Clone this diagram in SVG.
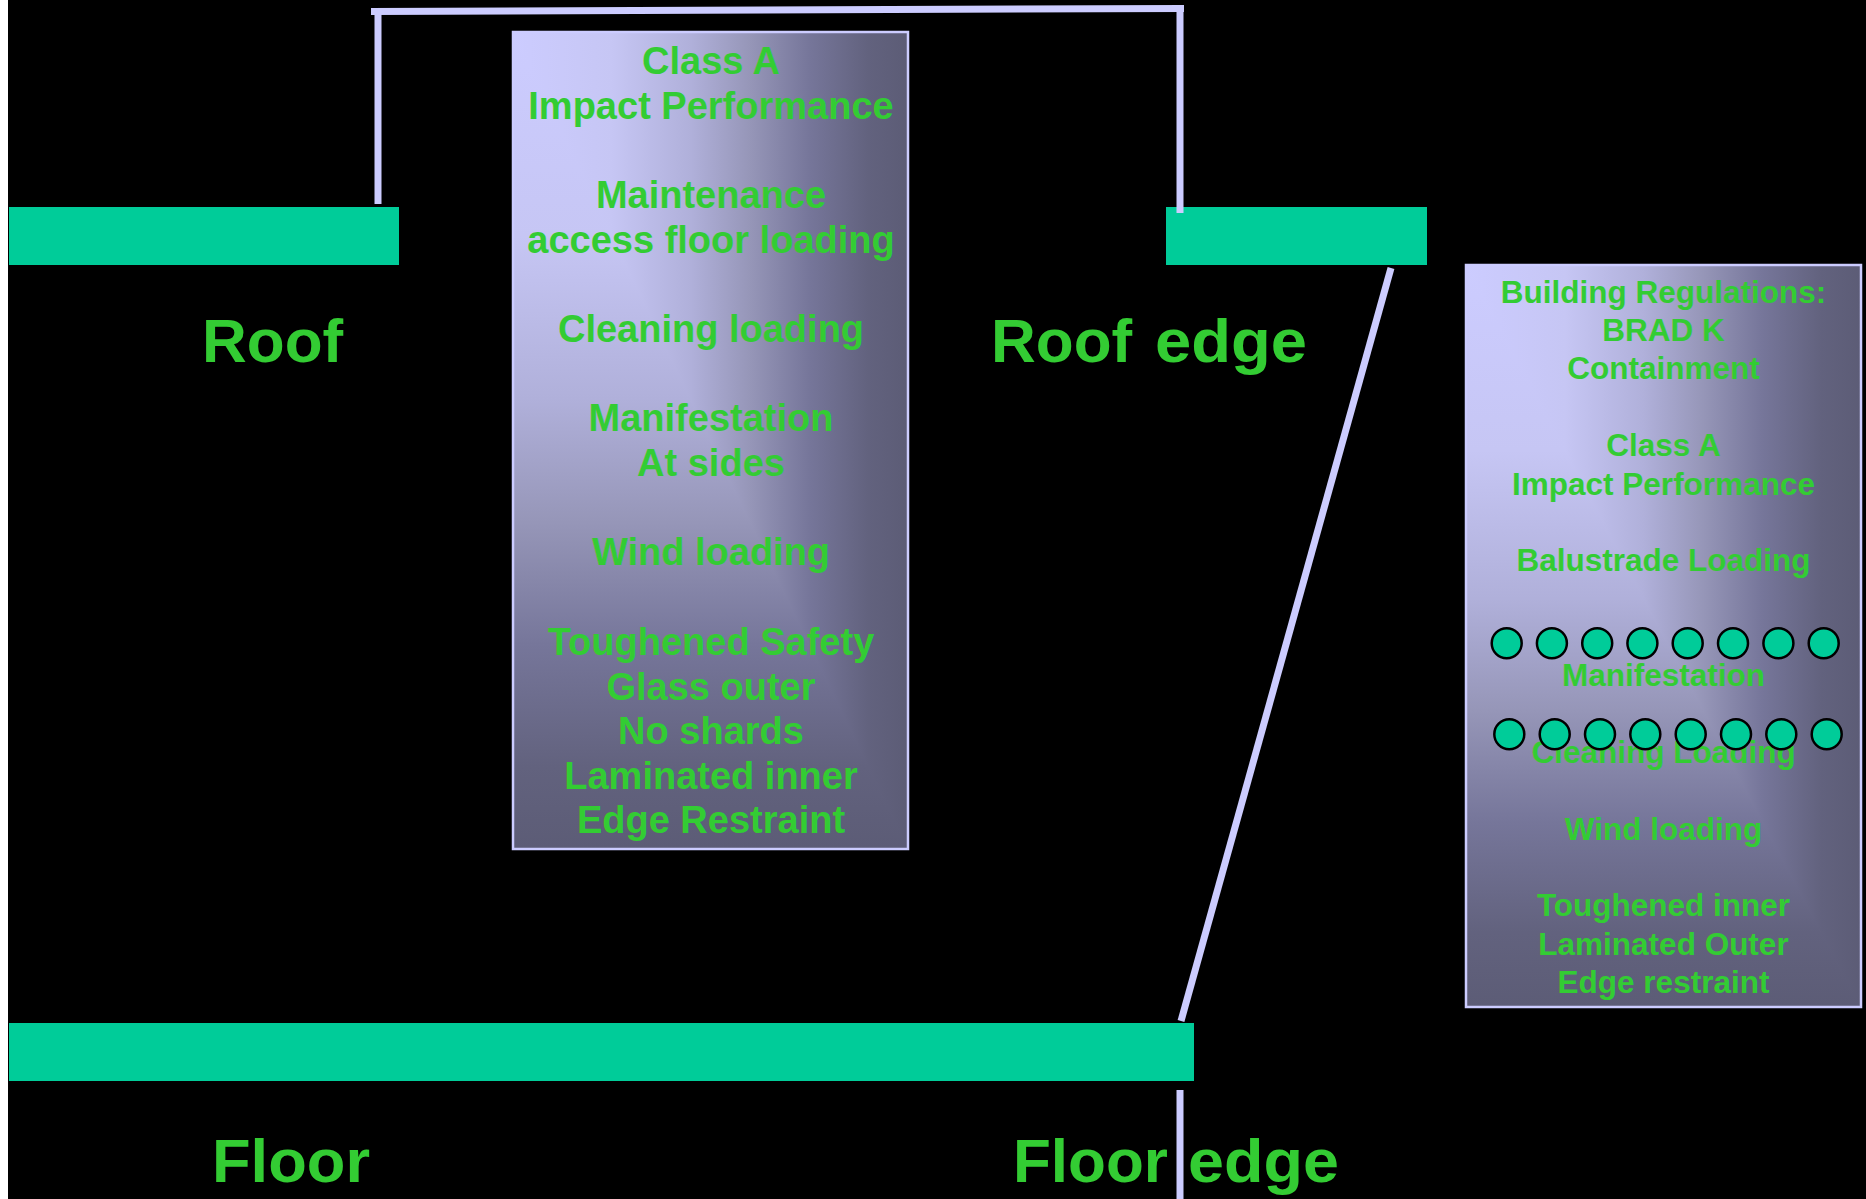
<svg xmlns="http://www.w3.org/2000/svg" width="1866" height="1199" viewBox="0 0 1866 1199">
<style>
.lbl{font-family:"Liberation Sans",Arial,sans-serif;font-weight:bold;fill:#33CC33;}
.big{font-size:62px;}
.mid{font-size:38px;text-anchor:middle;}
.sm{font-size:31.5px;text-anchor:middle;}
.bar{fill:#00CC99;}
.ln{stroke:#CCCCFF;stroke-width:7;fill:none;}
.frame{fill:none;stroke:#CCCCFF;stroke-width:2.5;}
.dot{fill:#00CC99;stroke:#000;stroke-width:2.5;}
</style>
<defs>
<linearGradient id="gh1" gradientUnits="userSpaceOnUse" x1="513" y1="0" x2="908" y2="0">
<stop offset="0" stop-color="#CCCCFF"/><stop offset="0.25" stop-color="#C6C6F4"/><stop offset="0.45" stop-color="#B0B0DA"/><stop offset="0.6" stop-color="#9696B8"/><stop offset="0.75" stop-color="#76769A"/><stop offset="0.9" stop-color="#62627E"/><stop offset="1" stop-color="#5C5C76"/>
</linearGradient>
<linearGradient id="gv1" gradientUnits="userSpaceOnUse" x1="0" y1="32" x2="0" y2="849">
<stop offset="0" stop-color="#CCCCFF"/><stop offset="0.25" stop-color="#C6C6F4"/><stop offset="0.45" stop-color="#B0B0DA"/><stop offset="0.6" stop-color="#9696B8"/><stop offset="0.75" stop-color="#76769A"/><stop offset="0.9" stop-color="#62627E"/><stop offset="1" stop-color="#5C5C76"/>
</linearGradient>
<linearGradient id="gh2" gradientUnits="userSpaceOnUse" x1="1466" y1="0" x2="1861" y2="0">
<stop offset="0" stop-color="#CCCCFF"/><stop offset="0.25" stop-color="#C6C6F4"/><stop offset="0.45" stop-color="#B0B0DA"/><stop offset="0.6" stop-color="#9696B8"/><stop offset="0.75" stop-color="#76769A"/><stop offset="0.9" stop-color="#62627E"/><stop offset="1" stop-color="#5C5C76"/>
</linearGradient>
<linearGradient id="gv2" gradientUnits="userSpaceOnUse" x1="0" y1="265" x2="0" y2="1007">
<stop offset="0" stop-color="#CCCCFF"/><stop offset="0.25" stop-color="#C6C6F4"/><stop offset="0.45" stop-color="#B0B0DA"/><stop offset="0.6" stop-color="#9696B8"/><stop offset="0.75" stop-color="#76769A"/><stop offset="0.9" stop-color="#62627E"/><stop offset="1" stop-color="#5C5C76"/>
</linearGradient>
</defs>
<rect x="0" y="0" width="1866" height="1199" fill="#FFFFFF"/>
<rect x="8" y="0" width="1858" height="1199" fill="#000000"/>

<g id="roof">
<rect class="bar" x="9" y="207" width="390" height="58"/>
<text class="lbl big" x="202" y="362">Roof</text>
</g>
<g id="roof-edge">
<rect class="bar" x="1166" y="207" width="261" height="58"/>
<text class="lbl big" y="362"><tspan x="991">Roof</tspan> <tspan x="1155" textLength="152" lengthAdjust="spacingAndGlyphs">edge</tspan></text>
</g>
<g id="floor">
<rect class="bar" x="9" y="1023" width="1185" height="58"/>
<text class="lbl big" x="212" y="1182" textLength="158" lengthAdjust="spacingAndGlyphs">Floor</text>
</g>

<g id="connectors">
<line class="ln" x1="371" y1="11.5" x2="1184" y2="8.5"/>
<line class="ln" x1="378" y1="11" x2="378" y2="204"/>
<line class="ln" x1="1180" y1="8" x2="1180" y2="213"/>
<line class="ln" stroke-width="6" x1="1391" y1="268" x2="1181" y2="1021"/>
<line class="ln" x1="1180" y1="1090" x2="1180" y2="1199"/>
</g>

<g id="floor-edge">
<text class="lbl big" y="1182"><tspan x="1013">Floor</tspan> <tspan x="1188" textLength="151" lengthAdjust="spacingAndGlyphs">edge</tspan></text>
</g>

<g id="roof-glazing-box">
<rect x="513" y="32" width="395" height="817" fill="url(#gh1)"/>
<polygon points="513,32 513,849 908,849" fill="url(#gv1)"/>
<rect class="frame" x="513" y="32" width="395" height="817"/>
<text class="lbl mid" x="711" y="74">Class A</text>
<text class="lbl mid" x="711" y="118.6">Impact Performance</text>
<text class="lbl mid" x="711" y="208">Maintenance</text>
<text class="lbl mid" x="711" y="252.6">access floor loading</text>
<text class="lbl mid" x="711" y="342">Cleaning loading</text>
<text class="lbl mid" x="711" y="431.2">Manifestation</text>
<text class="lbl mid" x="711" y="476">At sides</text>
<text class="lbl mid" x="711" y="565.2">Wind loading</text>
<text class="lbl mid" x="711" y="655">Toughened Safety</text>
<text class="lbl mid" x="711" y="699.5">Glass outer</text>
<text class="lbl mid" x="711" y="744">No shards</text>
<text class="lbl mid" x="711" y="788.8">Laminated inner</text>
<text class="lbl mid" x="711" y="833.3">Edge Restraint</text>
</g>

<g id="balustrade-box">
<rect x="1466" y="265" width="395" height="742" fill="url(#gh2)"/>
<polygon points="1466,265 1466,1007 1861,1007" fill="url(#gv2)"/>
<rect class="frame" x="1466" y="265" width="395" height="742"/>
<text class="lbl sm" x="1663.5" y="302.7">Building Regulations:</text>
<text class="lbl sm" x="1663.5" y="341">BRAD K</text>
<text class="lbl sm" x="1663.5" y="379.4">Containment</text>
<text class="lbl sm" x="1663.5" y="456.1">Class A</text>
<text class="lbl sm" x="1663.5" y="494.5">Impact Performance</text>
<text class="lbl sm" x="1663.5" y="571.2">Balustrade Loading</text>
<text class="lbl sm" x="1663.5" y="686.2">Manifestation</text>
<text class="lbl sm" x="1663.5" y="762.9">Cleaning Loading</text>
<text class="lbl sm" x="1663.5" y="839.6">Wind loading</text>
<text class="lbl sm" x="1663.5" y="916.3">Toughened inner</text>
<text class="lbl sm" x="1663.5" y="954.7">Laminated Outer</text>
<text class="lbl sm" x="1663.5" y="993">Edge restraint</text>
<g id="manifestation-dots-1">
<circle class="dot" cx="1506.7" cy="643.3" r="15"/>
<circle class="dot" cx="1551.9" cy="643.3" r="15"/>
<circle class="dot" cx="1597.2" cy="643.3" r="15"/>
<circle class="dot" cx="1642.4" cy="643.3" r="15"/>
<circle class="dot" cx="1687.7" cy="643.3" r="15"/>
<circle class="dot" cx="1733.0" cy="643.3" r="15"/>
<circle class="dot" cx="1778.4" cy="643.3" r="15"/>
<circle class="dot" cx="1823.7" cy="643.3" r="15"/>
</g>
<g id="manifestation-dots-2">
<circle class="dot" cx="1509.3" cy="734.3" r="15"/>
<circle class="dot" cx="1554.7" cy="734.3" r="15"/>
<circle class="dot" cx="1600.0" cy="734.3" r="15"/>
<circle class="dot" cx="1645.3" cy="734.3" r="15"/>
<circle class="dot" cx="1690.7" cy="734.3" r="15"/>
<circle class="dot" cx="1736.0" cy="734.3" r="15"/>
<circle class="dot" cx="1781.3" cy="734.3" r="15"/>
<circle class="dot" cx="1826.7" cy="734.3" r="15"/>
</g>
</g>
</svg>
